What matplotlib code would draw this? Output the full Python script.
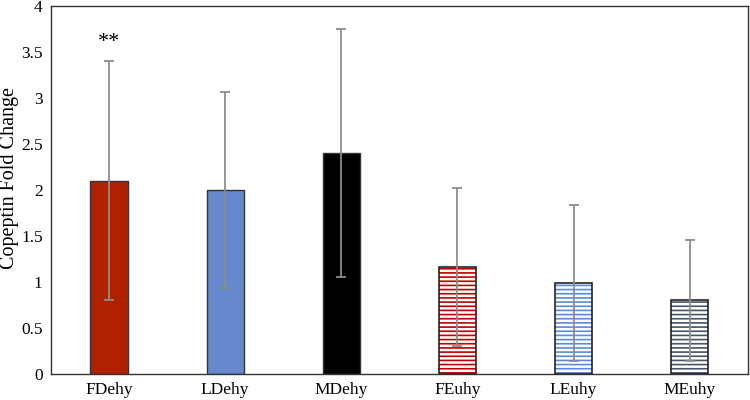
import matplotlib.pyplot as plt
import numpy as np

groups = ['FDehy', 'LDehy', 'MDehy', 'FEuhy', 'LEuhy', 'MEuhy']
means = [2.1, 2.0, 2.4, 1.16, 0.99, 0.8]
errors = [1.3, 1.07, 1.35, 0.86, 0.85, 0.66]
colors = ['#b12100', '#6688cc', '#000000', '#c00000', '#5b8bd9', '#44546a']
hatched = [False, False, False, True, True, True]

plt.rcParams['font.family'] = ['Liberation Serif', 'DejaVu Serif']
plt.rcParams['hatch.linewidth'] = 1.2

fig = plt.figure(figsize=(7.5, 4), dpi=100)
ax = fig.add_axes([0.068, 0.065, 0.929, 0.92])

x = np.arange(len(groups))
width = 0.32
for i in range(len(groups)):
    if hatched[i]:
        ax.bar(x[i], means[i], width, color='white', edgecolor=colors[i],
               hatch='----', linewidth=0, zorder=2)
        ax.bar(x[i], means[i], width, fill=False, edgecolor='#222222',
               linewidth=1.2, zorder=3)
    else:
        ax.bar(x[i], means[i], width, color=colors[i], edgecolor='#333333',
               linewidth=1.0, zorder=2)

ax.errorbar(x, means, yerr=errors, fmt='none', ecolor='#8c8c8c',
            elinewidth=1.3, capsize=3.5, capthick=1.3, zorder=4)

ax.text(x[0], 3.5, '**', ha='center', va='bottom', fontsize=16)

ax.set_ylim(0, 4)
ax.set_xlim(-0.5, len(groups) - 0.5)
ax.set_yticks(np.arange(0, 4.01, 0.5))
ax.set_yticklabels(['0', '0.5', '1', '1.5', '2', '2.5', '3', '3.5', '4'])
ax.set_xticks(x)
ax.set_xticklabels(groups)
ax.tick_params(length=0, labelsize=12.5, pad=6)
fig.text(0.013, 0.555, 'Copeptin Fold Change', rotation=90, fontsize=14.5,
         ha='center', va='center')
for s in ax.spines.values():
    s.set_color('#333333')
    s.set_linewidth(1.0)

fig.savefig('out.png', dpi=100)
